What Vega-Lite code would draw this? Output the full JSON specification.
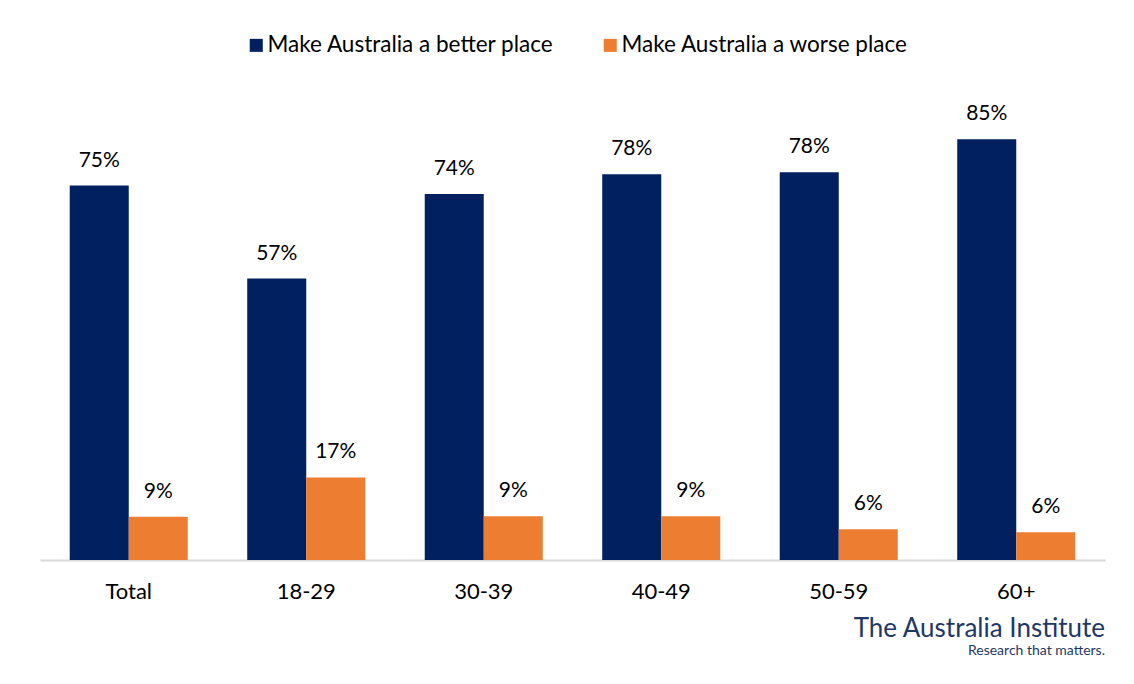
{
  "$schema": "https://vega.github.io/schema/vega-lite/v6.json",
  "width": 1065,
  "height": 450,
  "autosize": {"type": "none"},
  "padding": {"left": 40, "top": 110, "right": 29, "bottom": 124},
  "background": "white",
  "data": {
    "values": [
      {"group": "Total", "series": "Make Australia a better place", "value": 0.753},
      {"group": "Total", "series": "Make Australia a worse place", "value": 0.087},
      {"group": "18-29", "series": "Make Australia a better place", "value": 0.566},
      {"group": "18-29", "series": "Make Australia a worse place", "value": 0.166},
      {"group": "30-39", "series": "Make Australia a better place", "value": 0.736},
      {"group": "30-39", "series": "Make Australia a worse place", "value": 0.088},
      {"group": "40-49", "series": "Make Australia a better place", "value": 0.776},
      {"group": "40-49", "series": "Make Australia a worse place", "value": 0.088},
      {"group": "50-59", "series": "Make Australia a better place", "value": 0.78},
      {"group": "50-59", "series": "Make Australia a worse place", "value": 0.062},
      {"group": "60+", "series": "Make Australia a better place", "value": 0.846},
      {"group": "60+", "series": "Make Australia a worse place", "value": 0.056}
    ]
  },
  "title": {
    "text": "The Australia Institute",
    "subtitle": "Research that matters.",
    "orient": "bottom",
    "anchor": "end",
    "offset": 14,
    "font": "Lato",
    "fontSize": 26,
    "fontWeight": "normal",
    "color": "#1F3864",
    "subtitleFont": "Lato",
    "subtitleFontSize": 14,
    "subtitleColor": "#1F3864",
    "subtitlePadding": 2
  },
  "encoding": {
    "x": {
      "field": "group",
      "type": "nominal",
      "sort": ["Total", "18-29", "30-39", "40-49", "50-59", "60+"],
      "scale": {"paddingInner": 0.335, "paddingOuter": 0.1675},
      "axis": {
        "title": null,
        "labelAngle": 0,
        "ticks": false,
        "domainColor": "#d9d9d9",
        "domainWidth": 2,
        "labelFont": "Lato",
        "labelFontSize": 22,
        "labelColor": "#000000",
        "labelPadding": 21
      }
    },
    "xOffset": {
      "field": "series",
      "type": "nominal",
      "sort": ["Make Australia a better place", "Make Australia a worse place"],
      "scale": {"paddingInner": 0, "paddingOuter": 0}
    },
    "y": {
      "field": "value",
      "type": "quantitative",
      "scale": {"domain": [0, 0.905]},
      "axis": null
    },
    "color": {
      "field": "series",
      "type": "nominal",
      "sort": ["Make Australia a better place", "Make Australia a worse place"],
      "scale": {"range": ["#002060", "#ED7D31"]},
      "legend": {
        "title": null,
        "orient": "none",
        "legendX": 205,
        "legendY": -76,
        "direction": "horizontal",
        "symbolType": "square",
        "symbolSize": 170,
        "symbolStrokeWidth": 0,
        "labelFont": "Lato",
        "labelFontSize": 22.5,
        "labelColor": "#000000",
        "labelOffset": 0,
        "columnPadding": 45,
        "labelLimit": 400
      }
    }
  },
  "layer": [
    {"mark": {"type": "bar"}},
    {
      "mark": {"type": "text", "dy": -19, "baseline": "alphabetic", "font": "Lato", "fontSize": 21, "color": "#000000"},
      "encoding": {
        "text": {"field": "value", "type": "quantitative", "format": ".0%"},
        "color": {"value": "#000000"}
      }
    }
  ],
  "config": {
    "view": {"stroke": null}
  }
}
